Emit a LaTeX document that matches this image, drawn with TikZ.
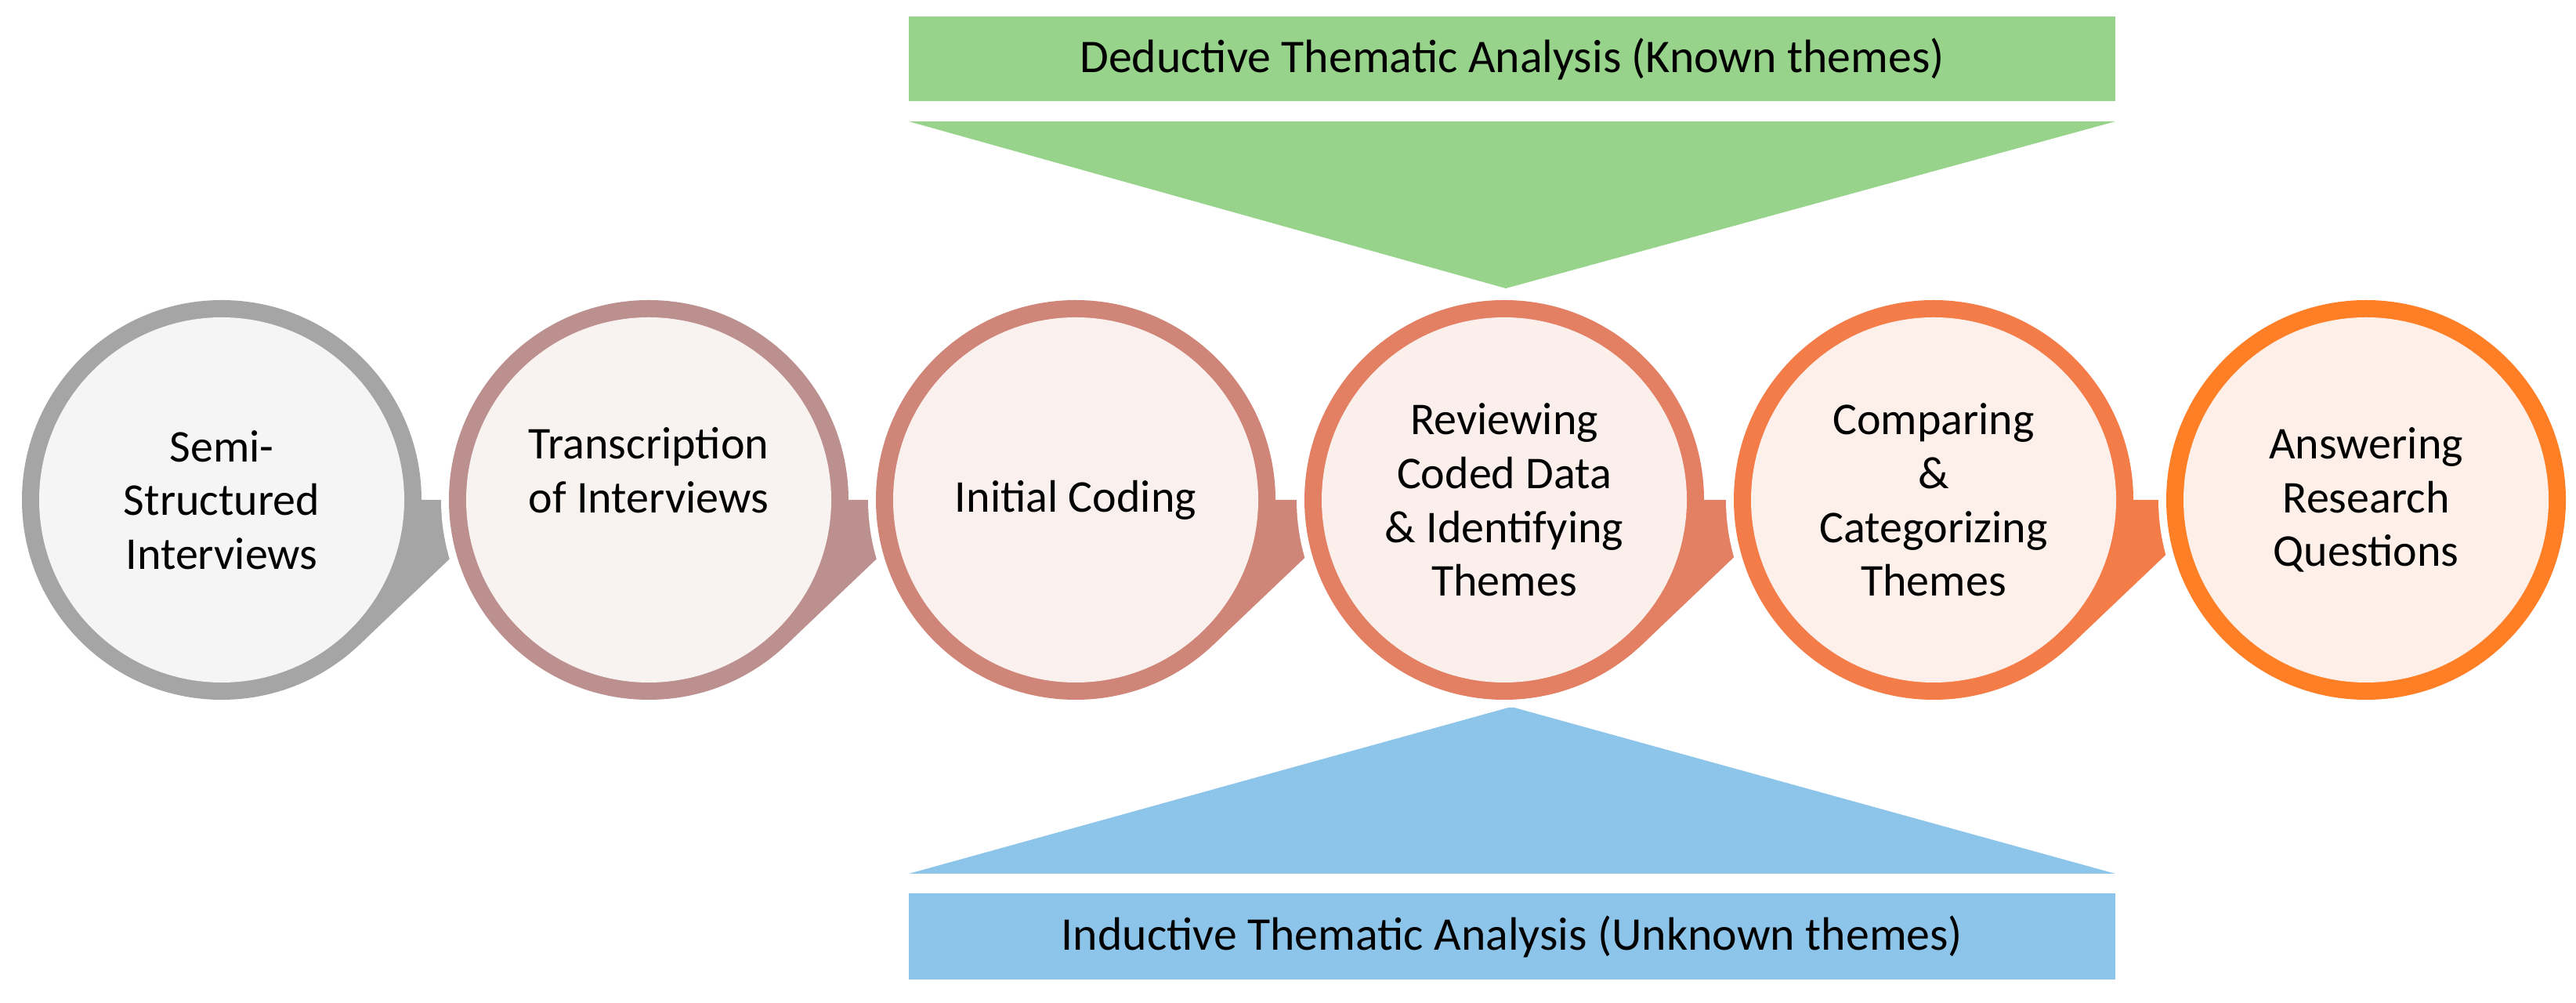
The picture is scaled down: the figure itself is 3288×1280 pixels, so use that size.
\documentclass[tikz,border=0pt]{standalone}
\usepackage{fontspec}
\setmainfont{Carlito}
\begin{document}
\begin{tikzpicture}[x=0.01cm,y=-0.01cm,
  lbl/.style={align=center,font=\fontsize{16.5}{19.5}\selectfont,text=black},
  band/.style={font=\fontsize{17}{20}\selectfont,text=black}]
\definecolor{gA}{HTML}{A5A5A5}\definecolor{fA}{HTML}{F5F5F5}
\definecolor{gB}{HTML}{BC908F}\definecolor{fB}{HTML}{F8F2F1}
\definecolor{gC}{HTML}{CF8577}\definecolor{fC}{HTML}{FAF1EF}
\definecolor{gD}{HTML}{E37F63}\definecolor{fD}{HTML}{FBEFEC}
\definecolor{gE}{HTML}{F47C48}\definecolor{fE}{HTML}{FDF0EA}
\definecolor{gF}{HTML}{FF7F27}\definecolor{fF}{HTML}{FEF0E8}
\definecolor{grn}{HTML}{97D38B}\definecolor{blu}{HTML}{8DC4E9}
\useasboundingbox (0,0) rectangle (3288,1280);
% bands
\fill[grn] (1160,21) rectangle (2700,129);
\node[band] (ded) at (1930,75) {Deductive Thematic Analysis (Known themes)};
\fill[grn] (1160,155) -- (2700,155) -- (1922,368) -- cycle;
\fill[blu] (1160,1115) -- (2700,1115) -- (1929,902) -- cycle;
\fill[blu] (1160,1140) rectangle (2700,1250);
\node[band] (ind) at (1930,1195) {Inductive Thematic Analysis (Unknown themes)};
% circles
\foreach \cx/\sc/\fc/\arr in {283/gA/fA/1,828/gB/fB/1,1373/gC/fC/1,1920/gD/fD/1,2468/gE/fE/1,3020/gF/fF/0}{
  \fill[white] (\cx,638) circle (265);
  \fill[\sc] (\cx,638) circle (255);
  \ifnum\arr=1
    \fill[\sc] (\cx,638) -- ++(46.4:255) -- (\cx+370,638) -- (\cx,638) ++(-46.4:255) -- cycle;
  \fi
  \fill[\fc] (\cx,638) circle (233);
}
\node[lbl] (n1) at (283,638) {Semi-\\Structured\\Interviews};
\node[lbl] (n2) at (828,600) {Transcription\\of Interviews};
\node[lbl] (n3) at (1373,638) {Initial Coding};
\node[lbl] (n4) at (1920,638) {Reviewing\\Coded Data\\\& Identifying\\Themes};
\node[lbl] (n5) at (2468,638) {Comparing\\\&\\Categorizing\\Themes};
\node[lbl] (n6) at (3020,638) {Answering\\Research\\Questions};
\end{tikzpicture}
\end{document}
